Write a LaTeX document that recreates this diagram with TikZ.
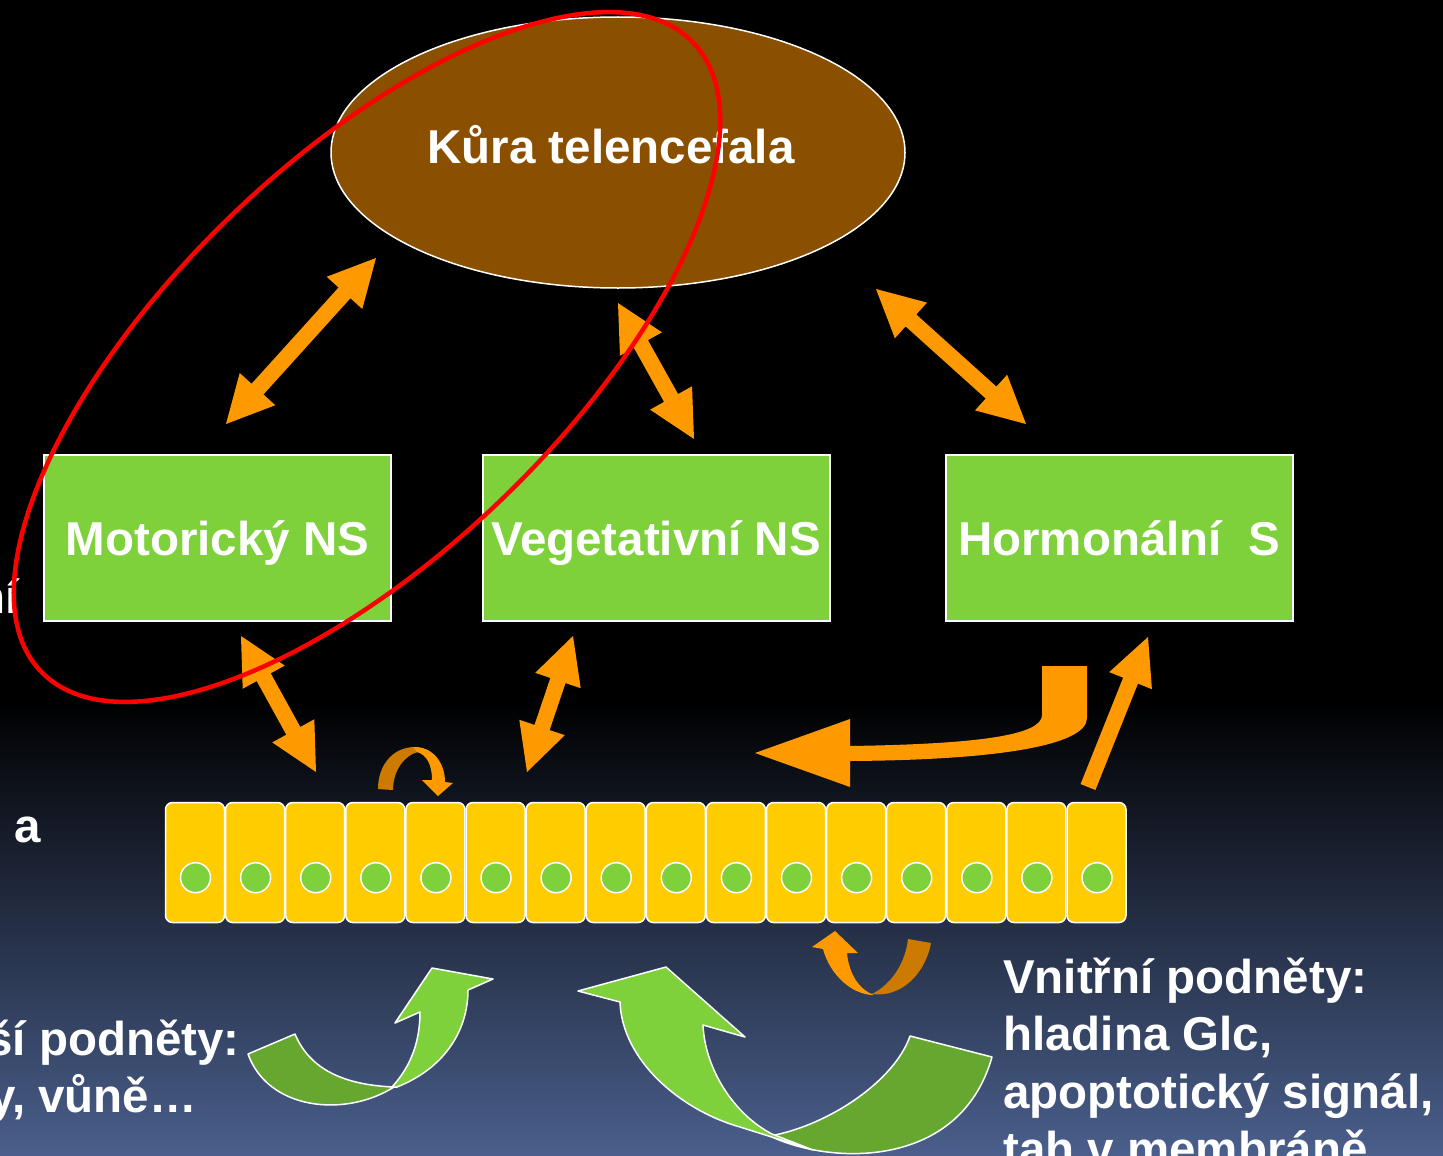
\documentclass[tikz,border=0pt]{standalone}
\usepackage{fontspec}
\setmainfont{Liberation Sans}
\usetikzlibrary{calc,shapes.geometric}
\definecolor{orng}{HTML}{FF9900}
\definecolor{dorng}{HTML}{CC7A00}
\definecolor{lgreen}{HTML}{7FD13B}
\definecolor{dgreen}{HTML}{66A82F}
\definecolor{yel}{HTML}{FFCC00}
\definecolor{brn}{HTML}{8A5000}
\definecolor{bgblue}{HTML}{4A5F8C}
\newcommand\dblarr[2]{%
  \coordinate (da1) at ($(#1)!47pt!(#2)$);
  \coordinate (db1) at ($(#2)!47pt!(#1)$);
  \fill[orng] (#1) -- ($(da1)!24pt!90:(#2)$) -- ($(da1)!8pt!90:(#2)$)
    -- ($(db1)!8pt!-90:(#1)$) -- ($(db1)!24pt!-90:(#1)$) -- (#2)
    -- ($(db1)!24pt!90:(#1)$) -- ($(db1)!8pt!90:(#1)$)
    -- ($(da1)!8pt!-90:(#2)$) -- ($(da1)!24pt!-90:(#2)$) -- cycle;}
\newcommand\sglarr[2]{%
  \coordinate (sb1) at ($(#2)!47pt!(#1)$);
  \fill[orng] ($(#1)!8pt!90:(#2)$) -- ($(sb1)!8pt!-90:(#1)$) -- ($(sb1)!23pt!-90:(#1)$)
    -- (#2) -- ($(sb1)!23pt!90:(#1)$) -- ($(sb1)!8pt!90:(#1)$)
    -- ($(#1)!8pt!-90:(#2)$) -- cycle;}
\tikzset{
  txt/.style={text=white, font=\fontsize{47.5}{57}\selectfont\bfseries, inner sep=0pt},
  sysbox/.style={draw=white, line width=2pt, fill=lgreen, minimum width=347pt,
    minimum height=166pt, txt, text height=34pt, text depth=0pt},
  cell/.style={draw=white, line width=1.5pt, fill=yel, rounded corners=7pt,
    minimum width=59pt, minimum height=120pt, inner sep=0pt},
  nuc/.style={circle, draw=white, line width=1.5pt, fill=lgreen, minimum size=30pt, inner sep=0pt},
  garrow/.style={draw=white, line width=1.5pt, line join=round},
}
\begin{document}
\begin{tikzpicture}[x=1pt,y=-1pt]
\useasboundingbox (0,0) rectangle (1443,1156);
\clip (0,0) rectangle (1443,1156);
% background
\fill[black] (0,0) rectangle (1443,701);
\shade[top color=black, bottom color=bgblue] (0,700) rectangle (1443,1156);

% cortex
\node[ellipse, draw=white, line width=1.5pt, fill=brn, minimum width=574pt, minimum height=271pt,
  txt, text height=34pt, text depth=13pt] (cortex) at (618,152.5) {Kůra telencefala\hspace*{14pt}};

% systems
\node[sysbox] (mot) at (217.5,538) {Motorický NS};
\node[sysbox] (veg) at (656,538) {Vegetativní NS};
\node[sysbox] (hor) at (1119,538) {Hormonální\ \ S};

% arrow end points
\coordinate (a1s) at (376,258);  \coordinate (a1e) at (226,424);
\coordinate (a2s) at (618,303);  \coordinate (a2e) at (694,439);
\coordinate (a3s) at (876,289);  \coordinate (a3e) at (1026,424);
\coordinate (a4s) at (241,636);  \coordinate (a4e) at (316,772);
\coordinate (a5s) at (573,636);  \coordinate (a5e) at (527,772);
\coordinate (a6s) at (1088,787); \coordinate (a6e) at (1148,637);
\dblarr{a1s}{a1e}
\dblarr{a2s}{a2e}
\dblarr{a3s}{a3e}
\dblarr{a4s}{a4e}
\dblarr{a5s}{a5e}
\sglarr{a6s}{a6e}

% bent arrow from hormonal system to the left
\fill[orng] (1042,666) -- (1087,666) -- (1087,718)
  .. controls (1087,745) and (1000,760) .. (850,761) -- (850,787) -- (755,753)
  -- (850,719) -- (850,746) .. controls (980,744) and (1042,735) .. (1042,715) -- cycle;

% cells
\foreach \i in {0,...,15}{
  \node[cell] (c\i) at ({195+60.1*\i},862.5) {};
  \node[nuc] (n\i) at ({195.5+60.1*\i},877.7) {};
}

% small orange curl above cells
\fill[dorng] (378,789) .. controls (378,765) and (393,747) .. (415,747) -- (418,752)
  .. controls (405,755) and (393,770) .. (393,790) -- cycle;
\fill[orng] (413,747) .. controls (432,746) and (445,762) .. (445,782) -- (453,783)
  -- (438,796) -- (422,780) -- (432,780) .. controls (432,765) and (427,755) .. (417,752) -- cycle;

% small orange curl below cells
\fill[dorng] (872,994) .. controls (900,998) and (925,975) .. (931,943) -- (908,939)
  .. controls (905,965) and (890,985) .. (872,994) -- cycle;
\fill[orng] (823,949) -- (812,947) -- (835,931) -- (858,953) -- (847,953)
  .. controls (849,975) and (860,990) .. (874,995)
  .. controls (852,995) and (830,975) .. (823,949) -- cycle;

% left green curved arrow
\filldraw[garrow, fill=dgreen] (248,1054) -- (295,1034) .. controls (310,1070) and (345,1085) .. (394,1087)
  .. controls (345,1118) and (268,1110) .. (248,1054) -- cycle;
\filldraw[garrow, fill=lgreen] (392,1087) .. controls (412,1065) and (420,1040) .. (420,1012)
  -- (395,1023) -- (432,968) -- (493,979) -- (468,990)
  .. controls (468,1030) and (445,1068) .. (397,1087) -- cycle;

% big green curved arrow
\filldraw[garrow, fill=dgreen] (910,1036) -- (992,1057) .. controls (960,1170) and (830,1165) .. (770,1136)
  .. controls (830,1125) and (895,1080) .. (910,1036) -- cycle;
\filldraw[garrow, fill=lgreen] (813,1150) -- (740,1127) .. controls (680,1110) and (622,1060) .. (620,1002)
  -- (578,991) -- (666,967) -- (745,1037) -- (703,1025)
  .. controls (705,1070) and (735,1115) .. (772,1134) -- cycle;

% texts (partly cut at the left edge)
\node[txt, anchor=base east] (t1) at (19,613) {ní};
\node[txt, anchor=base west] (t2) at (14,842) {a};
\node[txt, anchor=base east] (t3) at (240,1055) {ší podněty:};
\node[txt, anchor=base east] (t4) at (197,1112) {y, vůně…};
\node[txt, anchor=base west] (r1) at (1003,993) {Vnitřní podněty:};
\node[txt, anchor=base west] (r2) at (1003,1050.5) {hladina Glc,};
\node[txt, anchor=base west] (r3) at (1003,1108) {apoptotický signál,};
\node[txt, anchor=base west] (r4) at (1003,1165.5) {tah v membráně};

% red ellipse
\draw[red, line width=4.5pt, rotate around={44:(367,357)}] (367,357) ellipse [x radius=453, y radius=196];
\end{tikzpicture}
\end{document}
